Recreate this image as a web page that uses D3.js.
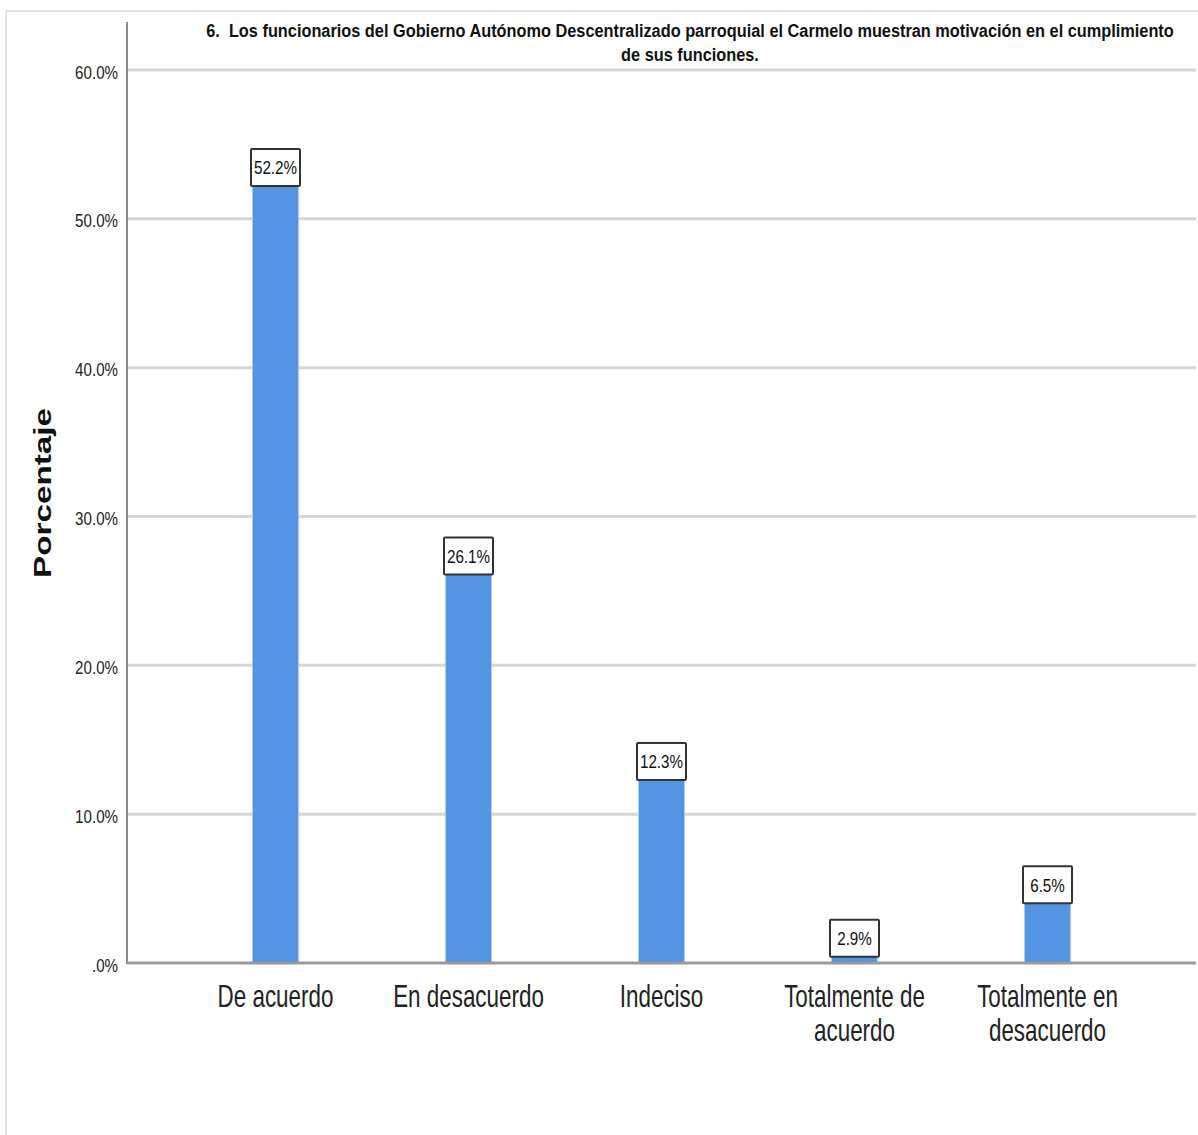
<!DOCTYPE html>
<html><head><meta charset="utf-8">
<script src="https://cdn.jsdelivr.net/npm/d3@7"></script>
<style>
html,body{margin:0;padding:0;background:#fff;}
svg{display:block;}
text{font-family:"Liberation Sans",Arial,sans-serif;}
</style></head>
<body>
<svg id="chart" width="1198" height="1135"></svg>
<script>
const categories = [["De acuerdo"],["En desacuerdo"],["Indeciso"],["Totalmente de","acuerdo"],["Totalmente en","desacuerdo"]];
const values = [52.2, 26.1, 12.3, 2.9, 6.5];
const yTicks = [0, 10, 20, 30, 40, 50, 60];
const titleLines = ["6.\u00a0 Los funcionarios del Gobierno Autónomo Descentralizado parroquial el Carmelo muestran motivación en el cumplimiento","de sus funciones."];
const yTitle = "Porcentaje";

const svg = d3.select("#chart");
const W = 1198, H = 1135;
const x0 = 127, x1 = 1196, yBase = 963, yTop = 70;

// squeeze text horizontally to mimic a narrow font
function condense(sel, factor){
  sel.each(function(){
    const len = this.getComputedTextLength();
    d3.select(this).attr("textLength", len*factor).attr("lengthAdjust","spacingAndGlyphs");
  });
}

// outer frame lines
svg.append("line").attr("x1",6).attr("x2",W).attr("y1",11).attr("y2",11).attr("stroke","#e3e3e3").attr("stroke-width",2);
svg.append("line").attr("x1",6).attr("x2",6).attr("y1",11).attr("y2",H).attr("stroke","#e3e3e3").attr("stroke-width",2);

const y = d3.scaleLinear().domain([0,60]).range([yBase,yTop]);
const x = d3.scaleBand().domain(d3.range(values.length)).range([179,1144]).paddingInner(0.76).paddingOuter(0.38);

// gridlines
svg.append("g").selectAll("line").data(yTicks.filter(d=>d>0)).join("line")
  .attr("x1",x0).attr("x2",x1).attr("y1",d=>y(d)).attr("y2",d=>y(d))
  .attr("stroke","#d6d6d6").attr("stroke-width",3);

// y axis
const yAxis = d3.axisLeft(y).tickValues(yTicks).tickSize(0).tickPadding(9)
  .tickFormat(d => d===0 ? ".0%" : d3.format(".1f")(d)+"%");
const gy = svg.append("g").attr("transform",`translate(${x0},0)`).call(yAxis);
gy.select(".domain").remove();
gy.selectAll("text").attr("font-family",null).attr("font-size",18).attr("fill","#222").attr("dy","0.45em");
condense(gy.selectAll("text"), 0.84);
svg.append("line").attr("x1",x0).attr("x2",x0).attr("y1",22).attr("y2",yBase+1).attr("stroke","#8c8c8c").attr("stroke-width",2);

// bars
svg.append("g").selectAll("rect").data(values).join("rect")
  .attr("x",(d,i)=>x(i)).attr("width",x.bandwidth())
  .attr("y",d=>y(d)).attr("height",d=>yBase-y(d))
  .attr("fill","#5594e2").attr("stroke","#b9d3f3").attr("stroke-width",0.8);

// x axis line
svg.append("line").attr("x1",x0).attr("x2",x1).attr("y1",yBase).attr("y2",yBase).attr("stroke","#9a9a9a").attr("stroke-width",3);

// value labels
const bw = 49, bh = 37;
const lg = svg.append("g").selectAll("g").data(values).join("g")
  .attr("transform",(d,i)=>{
    const cx = x(i)+x.bandwidth()/2;
    const top = d < 10 ? y(d) : y(d)-bh;
    return `translate(${cx-bw/2},${top})`;
  });
lg.append("rect").attr("width",bw).attr("height",bh).attr("fill","#fff").attr("stroke","#333").attr("stroke-width",2).attr("rx",1);
const vt = lg.append("text").attr("x",bw/2).attr("y",bh/2).attr("dy","0.36em")
  .attr("text-anchor","middle").attr("font-size",19).attr("fill","#111").text(d=>d.toFixed(1)+"%");
condense(vt, 0.8);

// category labels (one text per line)
const catLines = [];
categories.forEach((lines,i)=>lines.forEach((t,j)=>catLines.push({i,j,t})));
const ct = svg.append("g").selectAll("text").data(catLines).join("text")
  .attr("text-anchor","middle").attr("font-size",32).attr("fill","#222")
  .attr("x",d=>x(d.i)+x.bandwidth()/2).attr("y",d=>1007+d.j*34).text(d=>d.t);
condense(ct, 0.7);

// title (horizontally scaled with a transform)
const tg = svg.append("g");
const tt = tg.selectAll("text").data(titleLines).join("text")
  .attr("x",0).attr("y",0)
  .attr("text-anchor","middle").attr("font-size",19).attr("font-weight","bold").attr("fill","#111").text(d=>d);
const tFactor = 968 / tt.nodes()[0].getComputedTextLength();
tt.attr("transform",(d,i)=>`translate(690,${37+i*24}) scale(${tFactor},1)`);

// y title
svg.append("text").attr("transform","translate(51,493) rotate(-90)")
  .attr("text-anchor","middle")
  .attr("font-size",24).attr("font-weight","bold").attr("fill","#111")
  .attr("textLength",170).attr("lengthAdjust","spacingAndGlyphs").text(yTitle);
</script>
</body></html>
